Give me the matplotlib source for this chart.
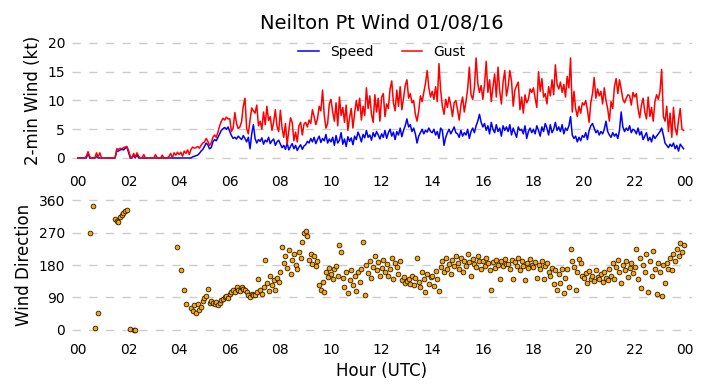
import numpy as np
import pandas as pd
import matplotlib
matplotlib.use('Agg')
import matplotlib.pyplot as plt
import matplotlib.dates as mdates

N = None

# 4-minute readings, one row per hour (15 values each)
speed_rows = [
    [0, 0, 0, 0, 0, 0, 0.8, 0, 0, 0, 0, 0.3, 0, 0, 0],
    [0, 0, 0, 0, 0, 0, 0, 0, 1.2, 1.2, 1.4, 1.5, 1.4, 1.7, 1.9],
    [1.0, 0, 0, 0.5, 0, 0.6, 0, 0, 0, 0, 0, 0, 0, 0, 0],
    [0, 0, 0, 0, 0, 0, 0, 0, 0, 0, 0, 0, 0, 0, 0],
    [0, 0, 0, 0, 0, 0, 0, 0, 0.2, 0.3, 0.4, 0.5, 0.8, 1.2, 1.5],
    [2.0, 2.6, 2.3, 1.6, 1.8, 2.8, 3.2, 3.0, 3.6, 4.2, 4.8, 5.1, 5.3, 5.0, 5.4],
    [4.6, 3.9, 3.4, 3.6, 3.3, 3.8, 3.5, 3.2, 3.9, 3.4, 2.8, 3.6, 1.6, 4.2, 5.8],
    [3.4, 2.6, 3.2, 2.9, 3.5, 2.4, 3.1, 2.8, 3.6, 2.5, 3.0, 3.3, 2.2, 2.8, 3.1],
    [2.4, 1.8, 2.2, 1.5, 2.6, 1.4, 2.0, 2.5, 1.6, 2.2, 1.3, 1.9, 2.3, 1.5, 2.1],
    [2.3, 2.9, 2.6, 3.4, 2.8, 3.6, 2.5, 3.2, 3.8, 2.7, 3.4, 3.0, 4.1, 2.6, 3.3],
    [2.8, 3.6, 2.2, 3.9, 2.6, 3.1, 4.4, 2.4, 3.3, 2.0, 3.7, 2.9, 3.5, 2.3, 3.8],
    [3.2, 4.5, 3.8, 2.8, 4.1, 3.5, 4.8, 3.6, 4.0, 3.1, 4.4, 3.7, 4.6, 4.0, 3.3],
    [4.2, 3.6, 4.8, 3.4, 4.4, 5.0, 3.8, 4.5, 3.2, 4.6, 4.0, 5.2, 3.7, 4.8, 5.6],
    [6.8, 5.4, 5.8, 4.6, 5.2, 4.2, 2.6, 3.8, 4.4, 5.0, 4.2, 4.8, 4.5, 5.2, 4.6],
    [4.4, 5.0, 4.0, 4.6, 3.4, 5.2, 4.8, 2.2, 3.6, 4.4, 5.0, 4.2, 4.8, 5.4, 4.4],
    [4.2, 3.6, 4.8, 3.8, 4.4, 4.0, 5.0, 3.4, 4.6, 5.2, 4.4, 5.6, 6.4, 7.6, 6.2],
    [5.4, 6.0, 4.8, 5.6, 4.2, 6.2, 5.0, 4.4, 5.8, 4.6, 5.2, 3.8, 5.6, 4.8, 5.4],
    [4.6, 5.8, 4.0, 5.2, 4.4, 3.6, 5.4, 4.8, 5.0, 4.2, 5.6, 3.4, 4.6, 5.2, 4.4],
    [5.0, 4.2, 5.6, 4.8, 3.8, 5.4, 4.6, 6.0, 5.2, 4.0, 5.8, 4.4, 5.0, 6.2, 4.8],
    [5.4, 4.6, 5.8, 4.2, 5.2, 4.8, 5.6, 7.2, 4.0, 3.4, 3.8, 2.8, 3.6, 3.0, 3.9],
    [3.6, 4.4, 3.2, 4.8, 5.6, 6.0, 5.2, 4.4, 4.8, 4.0, 4.6, 4.2, 5.0, 6.4, 4.6],
    [4.0, 3.6, 4.4, 3.8, 4.2, 3.4, 4.8, 8.0, 5.4, 4.6, 5.2, 4.8, 5.6, 4.4, 5.0],
    [4.8, 4.2, 5.2, 4.0, 4.6, 3.2, 3.8, 4.4, 3.0, 3.6, 2.8, 4.0, 3.4, 3.8, 4.2],
    [4.6, 5.2, 4.0, 2.6, 2.2, 1.8, 2.4, 2.0, 2.6, 1.6, 2.2, 1.2, 2.4, 2.0, 1.6],
]

gust_rows = [
    [0, 0, 0, 0, 0, 0.3, 1.1, 0.2, 0, 0, 0, 0.9, 0.2, 0.9, 0],
    [0, 0, 0, 0, 0, 0, 0, 0, 1.6, 1.5, 1.7, 1.6, 1.8, 1.9, 2.0],
    [1.3, 0.3, 0, 0.8, 0.2, 0.9, 0.3, 0, 0, 0.6, 0, 0, 0, 0, 0],
    [0, 0.6, 0, 0, 0, 0.5, 0, 0, 0, 0.3, 0.8, 0, 0.9, 0.5, 1.0],
    [0.6, 1.0, 0.3, 1.2, 0.8, 1.4, 0.6, 1.5, 1.9, 1.7, 1.8, 2.0, 1.7, 2.2, 2.6],
    [2.8, 3.4, 2.9, 2.2, 2.6, 3.6, 4.0, 3.6, 4.5, 5.6, 6.4, 6.9, 6.6, 7.1, 6.8],
    [6.8, 4.6, 5.2, 7.9, 6.0, 5.1, 5.4, 6.3, 9.0, 10.4, 5.2, 4.2, 6.6, 8.7, 8.2],
    [7.8, 9.2, 5.6, 6.4, 5.0, 8.0, 5.8, 9.0, 6.5, 7.2, 4.8, 6.2, 8.4, 5.5, 4.6],
    [8.3, 5.2, 3.6, 6.0, 2.4, 4.8, 7.0, 6.2, 3.0, 4.5, 2.8, 5.6, 6.2, 4.0, 5.9],
    [6.2, 5.4, 6.6, 6.0, 8.4, 7.2, 5.8, 6.8, 9.0, 8.2, 11.8, 7.5, 5.2, 6.0, 9.4],
    [10.2, 8.0, 6.4, 9.6, 5.6, 10.6, 7.4, 8.8, 6.2, 9.2, 4.8, 7.0, 8.6, 5.2, 7.8],
    [10.0, 8.2, 10.4, 6.6, 9.0, 7.4, 12.2, 8.6, 10.8, 7.6, 6.2, 11.0, 8.0, 10.4, 6.4],
    [10.6, 11.2, 7.2, 9.4, 8.6, 12.0, 13.4, 9.6, 8.2, 11.8, 9.0, 12.4, 8.4, 10.4, 12.6],
    [13.6, 10.4, 11.2, 9.6, 10.0, 7.6, 6.4, 8.2, 10.8, 9.8, 11.4, 13.0, 15.2, 12.2, 10.6],
    [11.6, 10.2, 12.4, 9.8, 16.4, 11.8, 9.0, 7.6, 10.2, 8.8, 10.6, 9.2, 7.2, 9.6, 10.0],
    [8.4, 6.6, 9.2, 10.6, 8.0, 9.8, 12.0, 15.8, 11.0, 10.2, 12.2, 17.4, 13.0, 11.4, 12.6],
    [10.2, 12.8, 16.8, 11.4, 13.6, 9.8, 12.4, 14.6, 10.6, 15.8, 11.6, 9.4, 13.2, 15.2, 10.8],
    [12.4, 15.2, 13.4, 9.0, 11.8, 12.6, 13.2, 8.4, 10.6, 7.8, 11.0, 9.6, 10.2, 12.0, 11.4],
    [12.2, 10.4, 8.8, 15.0, 11.6, 13.8, 10.6, 11.2, 9.4, 12.4, 10.8, 13.6, 11.0, 16.2, 12.8],
    [12.0, 13.2, 11.4, 12.8, 10.6, 14.2, 12.2, 17.4, 8.0, 11.6, 8.6, 7.2, 9.0, 7.8, 9.6],
    [9.2, 10.0, 8.4, 6.2, 9.6, 11.2, 14.0, 10.4, 12.0, 10.8, 11.6, 9.4, 12.2, 10.0, 8.6],
    [6.4, 9.8, 8.6, 12.4, 13.8, 11.2, 13.6, 12.0, 10.2, 9.6, 10.4, 11.0, 10.8, 9.2, 11.4],
    [10.6, 11.2, 8.6, 7.0, 9.2, 10.4, 8.0, 6.8, 10.6, 7.2, 8.8, 6.4, 9.8, 11.0, 10.2],
    [11.6, 15.4, 7.2, 6.4, 9.0, 4.6, 7.8, 3.6, 8.8, 5.2, 4.0, 6.6, 8.6, 5.0, 4.8],
]

direction_rows = [
    [N, N, N, N, N, N, N, 270, N, 344, 5, N, 46, N, N],
    [N, N, N, N, N, N, N, 308, 302, 300, 312, 318, 325, 330, 332],
    [N, 3, N, 1, 0, N, N, N, N, N, N, N, N, N, N],
    [N, N, N, N, N, N, N, N, N, N, N, N, N, N, 231],
    [N, 165, N, 110, 73, N, N, 61, 52, 68, 48, 72, 56, 64, 80],
    [88, 95, 114, 76, 80, 74, 72, 78, 70, 76, 82, 86, 90, 94, 88],
    [100, 104, 110, 106, 118, 112, 108, 120, 114, 110, 104, 96, 92, 100, 98],
    [96, 104, 140, 112, 100, 120, 195, 130, 108, 150, 125, 138, 110, 145, 132],
    [160, 230, 186, 205, 172, 222, 155, 195, 210, 180, 168, 215, 200, 245, 268],
    [275, 260, 195, 210, 182, 205, 176, 190, 124, 110, 132, 104, 160, 148, 172],
    [155, 142, 168, 178, 150, 235, 215, 145, 118, 160, 102, 138, 165, 125, 150],
    [108, 160, 132, 170, 244, 98, 180, 158, 192, 145, 175, 205, 165, 188, 150],
    [172, 195, 160, 182, 150, 168, 200, 142, 185, 175, 156, 190, 138, 148, 130],
    [135, 142, 128, 150, 124, 145, 200, 132, 118, 160, 140, 104, 155, 128, 148],
    [150, 122, 162, 140, 108, 175, 190, 160, 200, 168, 182, 155, 195, 178, 205],
    [185, 170, 200, 160, 192, 178, 210, 188, 150, 196, 182, 175, 205, 190, 168],
    [192, 178, 200, 185, 165, 110, 188, 172, 195, 180, 140, 190, 176, 198, 184],
    [182, 170, 195, 142, 188, 176, 200, 165, 190, 178, 138, 185, 172, 196, 180],
    [175, 188, 145, 180, 168, 192, 140, 178, 185, 160, 150, 172, 128, 165, 110],
    [155, 130, 168, 102, 145, 170, 120, 225, 190, 175, 110, 160, 198, 185, 150],
    [145, 158, 130, 162, 140, 150, 135, 165, 148, 142, 155, 132, 160, 145, 138],
    [170, 150, 185, 140, 175, 195, 160, 130, 180, 165, 190, 148, 172, 185, 158],
    [175, 225, 140, 200, 115, 180, 160, 210, 105, 190, 150, 220, 170, 100, 185],
    [160, 95, 180, 130, 185, 170, 200, 165, 210, 190, 225, 205, 240, 215, 235],
]

speed = np.array(sum(speed_rows, []), dtype=float)
gust = np.array(sum(gust_rows, []), dtype=float)
direction = np.array(sum(direction_rows, []), dtype=float)

day = pd.Timestamp('2016-01-08')
times = pd.date_range(day, periods=len(speed), freq='4min')

grid_kw = dict(color='#cccccc', linestyle=(0, (6, 6)), linewidth=1)

fig = plt.figure(figsize=(7.02, 3.88), dpi=100)
ax1 = fig.add_axes([0.1026, 0.578, 0.8832, 0.326])
ax2 = fig.add_axes([0.1026, 0.131, 0.8832, 0.372])

ax1.plot(times, speed, color='blue', linewidth=1.1, label='Speed')
ax1.plot(times, gust, color='red', linewidth=1.1, label='Gust')
ax1.set_ylim(-1, 21)
ax1.set_yticks([0, 5, 10, 15, 20])
ax1.set_ylabel('2-min Wind (kt)', fontsize=12)
ax1.set_title('Neilton Pt Wind 01/08/16', fontsize=14)
ax1.legend(loc='upper center', ncol=2, frameon=False, fontsize=10,
           bbox_to_anchor=(0.5, 1.04), handlelength=1.5, columnspacing=2.0)

ax2.scatter(times, direction, s=12, c='orange', edgecolors='black', linewidths=0.5, zorder=3)
ax2.set_ylim(-20, 380)
ax2.set_yticks([0, 90, 180, 270, 360])
ax2.set_ylabel('Wind Direction', fontsize=12)
ax2.set_xlabel('Hour (UTC)', fontsize=12)

x0 = day - pd.Timedelta(minutes=14)
x1 = day + pd.Timedelta(hours=24, minutes=16)
for ax, pad in ((ax1, 8), (ax2, 4)):
    ax.set_xlim(x0, x1)
    ax.xaxis.set_major_locator(mdates.HourLocator(byhour=range(0, 24, 2)))
    ax.xaxis.set_major_formatter(mdates.DateFormatter('%H'))
    ax.yaxis.grid(True, **grid_kw)
    ax.set_axisbelow(True)
    for s in ax.spines.values():
        s.set_visible(False)
    ax.tick_params(axis='both', length=0, labelsize=10)
    ax.tick_params(axis='x', pad=pad)
    ax.tick_params(axis='y', pad=5)

fig.savefig('out.png', dpi=100)
